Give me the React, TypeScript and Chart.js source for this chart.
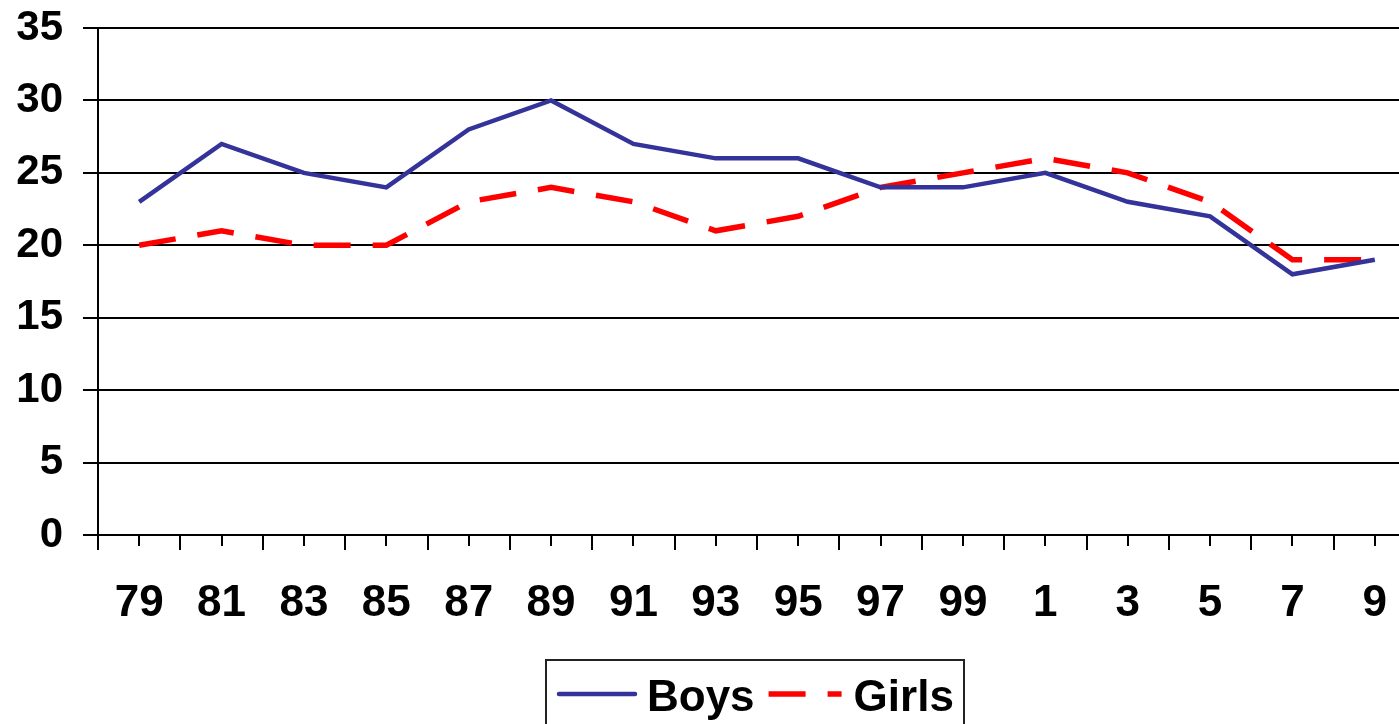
import React, { useEffect, useRef } from "react";
import { Chart, registerables } from "chart.js";

Chart.register(...registerables);

const years = ["79", "81", "83", "85", "87", "89", "91", "93", "95", "97", "99", "1", "3", "5", "7", "9"];
const boys = [23, 27, 25, 24, 28, 30, 27, 26, 26, 24, 24, 25, 23, 22, 18, 19];
const girls = [20, 21, 20, 20, 23, 24, 23, 21, 22, 24, 25, 26, 25, 23, 19, 19];
const yTicks = [0, 5, 10, 15, 20, 25, 30, 35];

const FONT = "'Liberation Sans', Arial, sans-serif";

const minorTicks = {
  id: "minorTicks",
  afterDraw(chart: any) {
    const x = chart.scales.x;
    const ctx = chart.ctx;
    const bottom = chart.chartArea.bottom;
    ctx.save();
    ctx.strokeStyle = "#000";
    ctx.lineWidth = 2;
    for (let i = 0; i < years.length; i++) {
      const px = Math.round(x.getPixelForValue(i));
      ctx.beginPath();
      ctx.moveTo(px, bottom);
      ctx.lineTo(px, bottom + 11);
      ctx.stroke();
    }
    ctx.restore();
  },
};

const boxedLegend = {
  id: "boxedLegend",
  afterDraw(chart: any) {
    const ctx = chart.ctx;
    const area = chart.chartArea;
    const ds = chart.data.datasets;
    const cx = (area.left + area.right) / 2 - 2;
    const boxW = 418;
    const left = cx - boxW / 2;
    const top = 660;
    ctx.save();
    ctx.strokeStyle = "#222";
    ctx.lineWidth = 2;
    ctx.beginPath();
    ctx.moveTo(left, chart.height + 5);
    ctx.lineTo(left, top);
    ctx.lineTo(left + boxW, top);
    ctx.lineTo(left + boxW, chart.height + 5);
    ctx.stroke();

    const midY = 694;
    ctx.font = "bold 44px " + FONT;
    ctx.fillStyle = "#000";
    ctx.textBaseline = "alphabetic";
    let x = left + 13;
    const lineLens = [76, 73];
    ds.forEach((d: any, i: number) => {
      ctx.save();
      ctx.strokeStyle = d.borderColor;
      ctx.lineWidth = d.borderWidth;
      ctx.setLineDash(d.borderDash || []);
      ctx.lineCap = d.borderDash ? "butt" : "round";
      ctx.beginPath();
      ctx.moveTo(x, midY);
      ctx.lineTo(x + lineLens[i], midY);
      ctx.stroke();
      ctx.restore();
      x += lineLens[i] + 12;
      ctx.fillText(d.label, x, 711);
      x += ctx.measureText(d.label).width + 14;
    });
    ctx.restore();
  },
};

export default function App() {
  const ref = useRef<HTMLCanvasElement>(null);
  useEffect(() => {
    if (!ref.current) return;
    const chart = new Chart(ref.current, {
      type: "line",
      data: {
        labels: years,
        datasets: [
          {
            label: "Boys",
            data: boys,
            borderColor: "#333399",
            backgroundColor: "#333399",
            borderWidth: 4.5,
            pointRadius: 0,
            tension: 0,
          },
          {
            label: "Girls",
            data: girls,
            borderColor: "#FF0000",
            backgroundColor: "#FF0000",
            borderWidth: 5.5,
            borderDash: [37, 22],
            pointRadius: 0,
            tension: 0,
          },
        ],
      },
      options: {
        responsive: false,
        animation: false,
        devicePixelRatio: 1,
        layout: { padding: { left: 0, top: 28, right: 4, bottom: 69 } },
        plugins: {
          legend: { display: false },
          tooltip: { enabled: false },
        },
        scales: {
          x: {
            offset: true,
            afterFit: (s: any) => {
              s.height = 120;
              s.paddingLeft = 0;
              s.paddingRight = 0;
            },
            grid: {
              offset: true,
              drawOnChartArea: false,
              drawTicks: true,
              tickLength: 15,
              color: "#000",
              lineWidth: 2,
            },
            border: { display: false },
            ticks: {
              color: "#000",
              padding: 27,
              maxRotation: 0,
              autoSkip: false,
              font: { family: FONT, size: 44, weight: "bold" },
            },
          },
          y: {
            min: 0,
            max: 35,
            afterFit: (s: any) => {
              s.width = 98;
              s.paddingTop = 0;
              s.paddingBottom = 0;
            },
            afterBuildTicks: (s: any) => {
              s.ticks = yTicks.map((v) => ({ value: v }));
            },
            grid: {
              color: "#000",
              lineWidth: 2,
              tickLength: 15,
              drawTicks: true,
            },
            border: { display: true, color: "#000", width: 2 },
            ticks: {
              color: "#000",
              padding: 20,
              font: { family: FONT, size: 42, weight: "bold" },
            },
          },
        },
      },
      plugins: [minorTicks, boxedLegend],
    });
    return () => chart.destroy();
  }, []);
  return (
    <div style={{ position: "fixed", left: 0, top: 0, width: 1399, height: 724, overflow: "hidden", background: "#fff" }}>
      <canvas ref={ref} width={1420} height={724} style={{ display: "block", width: 1420, height: 724 }} />
    </div>
  );
}
